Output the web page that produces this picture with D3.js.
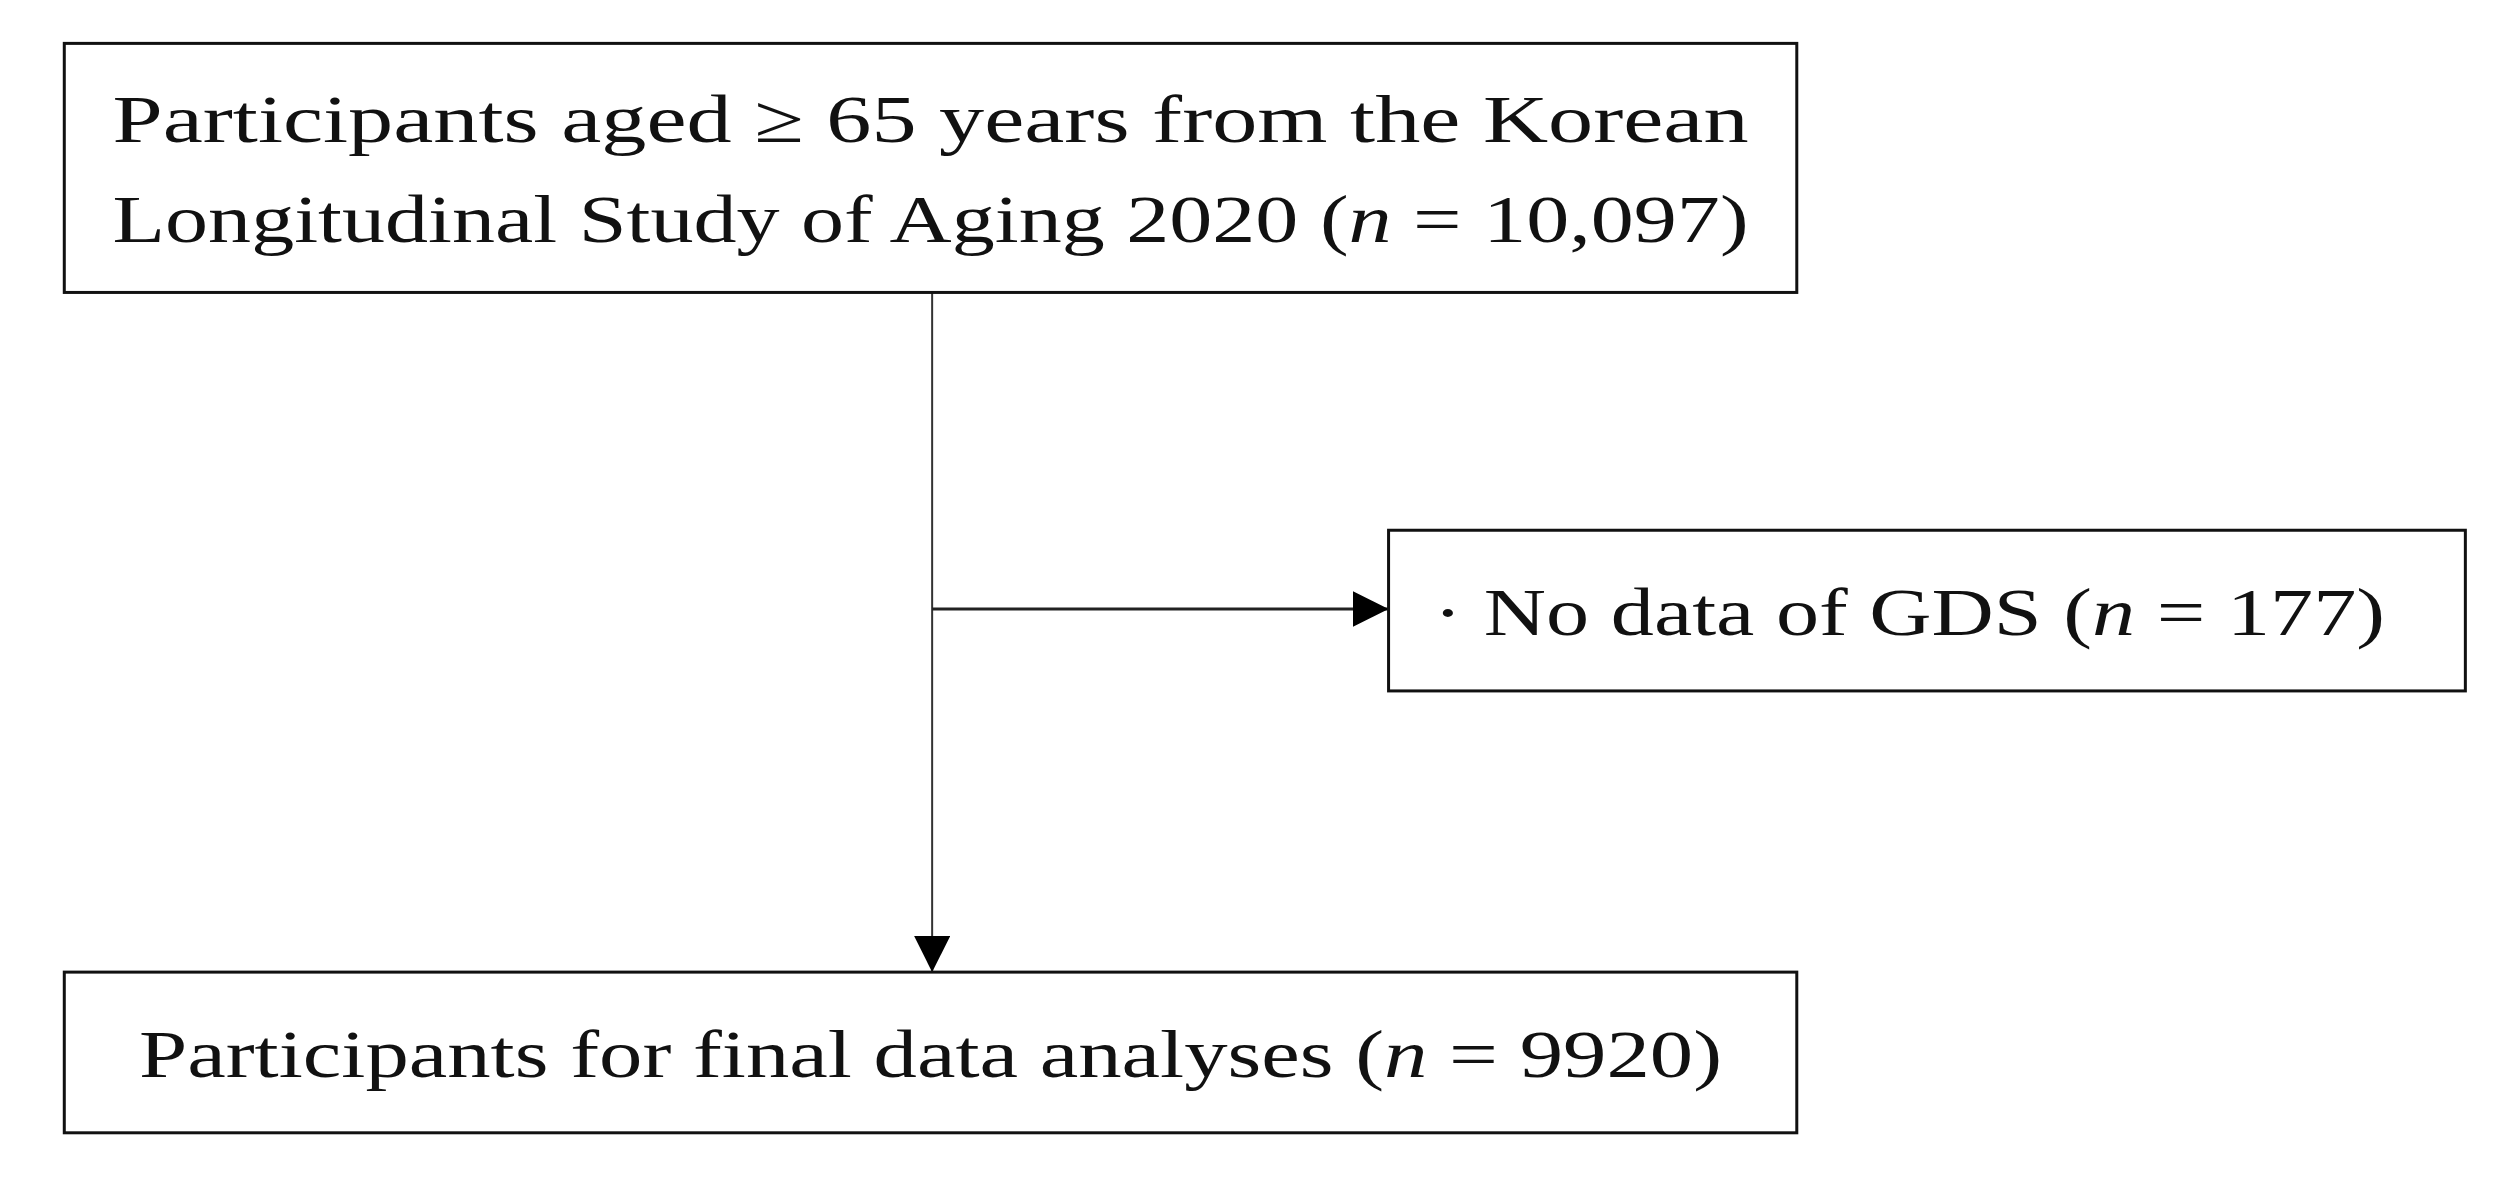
<!DOCTYPE html>
<html lang="en">
<head>
<meta charset="UTF-8">
<title>Flow diagram</title>
<script src="https://d3js.org/d3.v7.min.js"></script>
<style>
  body { margin: 0; background: #fff; }
  svg { display: block; font-family: "Liberation Serif", "DejaVu Serif", serif; }
</style>
</head>
<body>
<svg id="chart" width="2520" height="1181"></svg>
<script>
// boxes in the flow, with their text lines
const boxNames = ["source", "excluded", "final"];
const boxLines = [
  ["Participants aged \u2265 65 years from the Korean", "Longitudinal  Study of Aging 2020 (|n| = 10,097)"],
  ["\u00b7   No data of GDS (|n| = 177)"],
  ["Participants  for final data analyses  (|n| = 9920)"]
];
// layout in a 1568 x 735 unit grid
const boxRects = [[40, 27, 1118, 182], [864, 330, 1534, 430], [40, 605, 1118, 705]];
const textWidths = [[1018, 1018], [592], [985]];

const svg = d3.select("#chart");
const x = d3.scaleLinear().domain([0, 1568]).range([0, 2520]);
const y = d3.scaleLinear().domain([0, 735]).range([0, 1181]);

svg.append("defs").append("marker")
  .attr("id", "arrow").attr("viewBox", "0 0 10 10")
  .attr("refX", 10).attr("refY", 5)
  .attr("markerWidth", 10).attr("markerHeight", 10)
  .attr("markerUnits", "userSpaceOnUse")
  .attr("orient", "auto")
  .append("path").attr("d", "M0,0L10,5L0,10Z").attr("fill", "#000");
svg.select("marker").attr("markerWidth", 36).attr("markerHeight", 36);

const mid = 580;
svg.append("line")
  .attr("x1", x(mid)).attr("x2", x(mid))
  .attr("y1", y(boxRects[0][3])).attr("y2", y(boxRects[2][1]))
  .attr("stroke", "#333").attr("stroke-width", 2)
  .attr("marker-end", "url(#arrow)");
svg.append("line")
  .attr("x1", x(mid)).attr("x2", x(boxRects[1][0]))
  .attr("y1", y(379)).attr("y2", y(379))
  .attr("stroke", "#222").attr("stroke-width", 3)
  .attr("marker-end", "url(#arrow)");

boxRects.forEach((r, i) => {
  svg.append("rect")
    .attr("x", x(r[0])).attr("y", y(r[1]))
    .attr("width", x(r[2]) - x(r[0])).attr("height", y(r[3]) - y(r[1]))
    .attr("fill", "#fff").attr("stroke", "#111").attr("stroke-width", 3);
  const lines = boxLines[i];
  const cy = (r[1] + r[3]) / 2;
  const lh = 62;
  lines.forEach((ln, j) => {
    const ty = cy + (j - (lines.length - 1) / 2) * lh + 15;
    const w = textWidths[i][j];
    const left = i === 1 ? r[0] + 28 : (r[0] + r[2]) / 2 - w / 2;
    const t = svg.append("text")
      .attr("x", x(left)).attr("y", y(ty))
      .attr("font-size", 68).attr("fill", "#111")
      .attr("textLength", x(w) - x(0)).attr("lengthAdjust", "spacingAndGlyphs");
    ln.split("|").forEach((part, k) => {
      t.append("tspan").text(part).attr("font-style", k === 1 ? "italic" : null);
    });
  });
});
</script>
</body>
</html>
